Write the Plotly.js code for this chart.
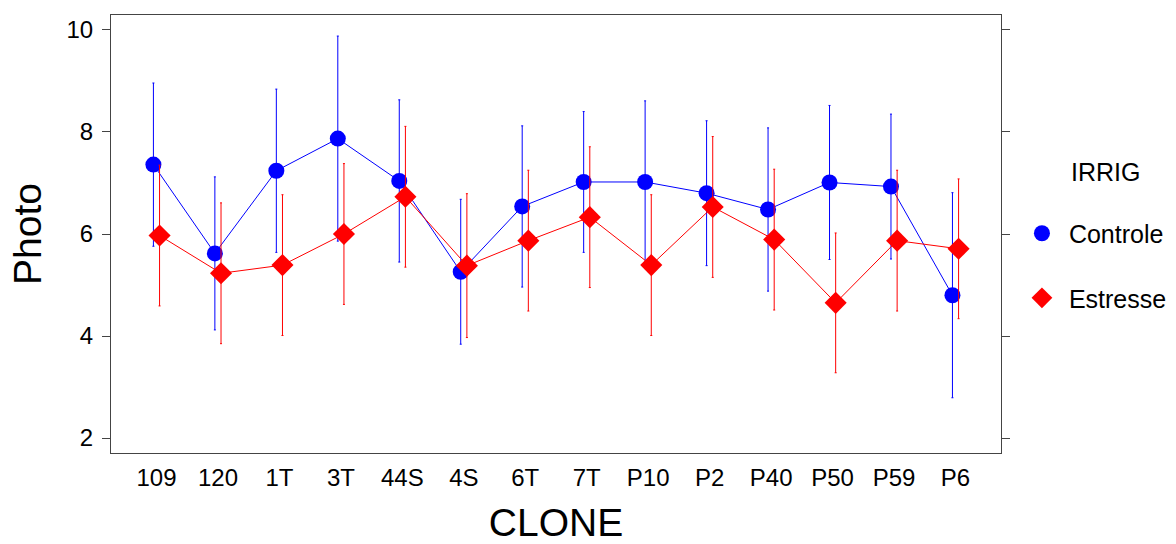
<!DOCTYPE html>
<html>
<head>
<meta charset="utf-8">
<script src="https://cdn.plot.ly/plotly-3.0.1.min.js"></script>
<style>
  html, body { margin: 0; padding: 0; background: #fff; }
  #chart { width: 1176px; height: 544px; }
</style>
</head>
<body>
<div id="chart"></div>
<script>
// Clone labels along the x axis
const clones = ["109", "120", "1T", "3T", "44S", "4S", "6T", "7T", "P10", "P2", "P40", "P50", "P59", "P6"];

// Photo means and error half-widths per irrigation level
const controleMean = [7.36, 5.62, 7.24, 7.87, 7.04, 5.26, 6.54, 7.02, 7.02, 6.80, 6.48, 7.01, 6.93, 4.80];
const controleErr  = [1.60, 1.50, 1.60, 2.01, 1.59, 1.42, 1.58, 1.38, 1.59, 1.42, 1.60, 1.51, 1.42, 2.01];
const estresseMean = [5.97, 5.23, 5.39, 6.00, 6.73, 5.38, 5.87, 6.33, 5.39, 6.53, 5.89, 4.65, 5.87, 5.71];
const estresseErr  = [1.38, 1.38, 1.38, 1.38, 1.38, 1.41, 1.38, 1.38, 1.38, 1.38, 1.38, 1.37, 1.38, 1.37];

const yTicks = [2, 4, 6, 8, 10];

// groups are dodged slightly left/right of each clone position
const dodge = 0.05;
const idx = clones.map((_, i) => i);
const xCtrl = idx.map(i => i - dodge);
const xStr = idx.map(i => i + dodge);

const BLUE = "#0000ff";
const RED = "#ff0000";
const FONT = "Liberation Sans, Arial, sans-serif";

function lineTrace(x, y, color) {
  return {
    type: "scatter", mode: "lines", x: x, y: y,
    line: { color: color, width: 1 },
    showlegend: false, hoverinfo: "skip"
  };
}

function pointTrace(x, y, err, color, symbol, size, name, group) {
  return {
    type: "scatter", mode: "markers", x: x, y: y, name: name,
    legendgroup: group,
    marker: { color: color, symbol: symbol, size: size, line: { width: 0 } },
    error_y: { type: "data", array: err, visible: true, color: color, thickness: 1, width: 1 }
  };
}

const data = [
  lineTrace(xCtrl, controleMean, BLUE),
  pointTrace(xCtrl, controleMean, controleErr, BLUE, "circle", 16, "\u00a0Controle", "a"),
  lineTrace(xStr, estresseMean, RED),
  pointTrace(xStr, estresseMean, estresseErr, RED, "diamond", 17, "\u00a0Estresse", "b")
];

const layout = {
  width: 1176, height: 544,
  margin: { l: 111, r: 175, t: 15, b: 91, autoexpand: false },
  paper_bgcolor: "#ffffff", plot_bgcolor: "#ffffff",
  font: { family: FONT, color: "#000000", size: 24 },
  xaxis: {
    range: [-0.74, 13.74],
    tickmode: "array", tickvals: idx, ticktext: clones,
    ticks: "", showgrid: false, zeroline: false,
    showline: true, mirror: true, linecolor: "#444444", linewidth: 1,
    tickfont: { size: 24 },
    ticklabelstandoff: 3,
    title: { text: "CLONE", font: { size: 39 }, standoff: 24 }
  },
  yaxis: {
    range: [1.707, 10.293],
    tickmode: "array", tickvals: yTicks,
    ticks: "outside", ticklen: 8, tickcolor: "#444444", tickwidth: 1,
    showgrid: false, zeroline: false,
    showline: true, mirror: "ticks", linecolor: "#444444", linewidth: 1,
    tickfont: { size: 24 },
    ticklabelstandoff: 4,
    title: { text: "Photo", font: { size: 39 }, standoff: 12 }
  },
  showlegend: true,
  legend: {
    xref: "container", yref: "container",
    x: 0.869, xanchor: "left",
    y: 0.613, yanchor: "top",
    font: { size: 25 },
    traceorder: "grouped",
    tracegroupgap: 29,
    bgcolor: "rgba(0,0,0,0)",
    itemsizing: "trace"
  },
  annotations: [{
    text: "IRRIG", xref: "paper", yref: "paper",
    x: 1.0764, y: 0.6416, xanchor: "left", yanchor: "middle",
    showarrow: false, font: { size: 25 }
  }]
};

Plotly.newPlot("chart", data, layout, { staticPlot: true, displayModeBar: false });
</script>
</body>
</html>
